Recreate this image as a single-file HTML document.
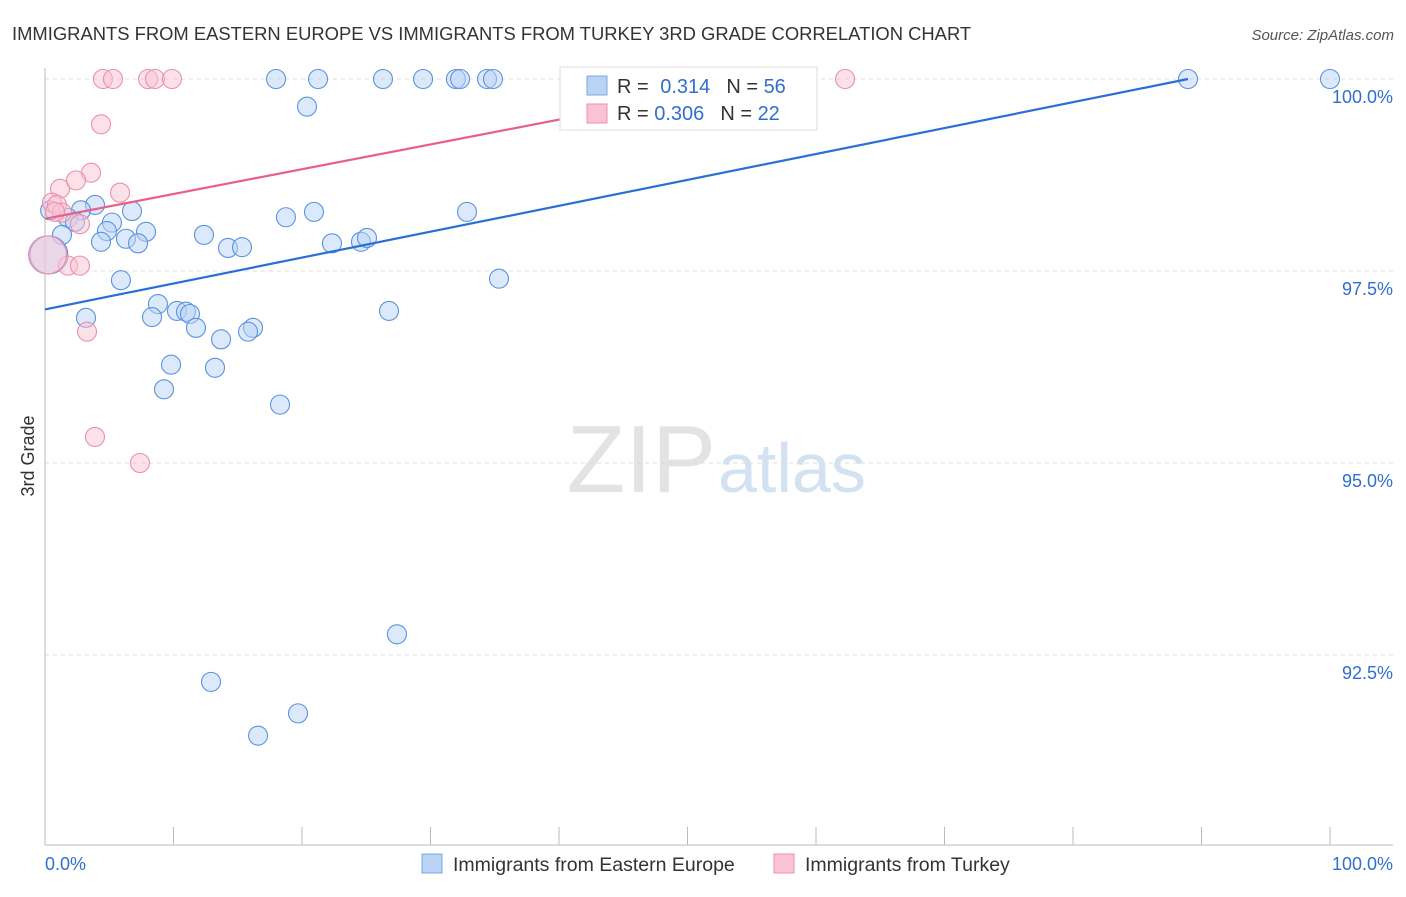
<!DOCTYPE html>
<html><head><meta charset="utf-8"><style>
body{margin:0;background:#fff;font-family:"Liberation Sans",sans-serif}
svg text{font-family:"Liberation Sans",sans-serif}
</style></head><body>
<svg width="1406" height="892" xmlns="http://www.w3.org/2000/svg">
<text x="12" y="40" font-size="18.4" fill="#333">IMMIGRANTS FROM EASTERN EUROPE VS IMMIGRANTS FROM TURKEY 3RD GRADE CORRELATION CHART</text>
<text x="1394" y="40" font-size="15" fill="#555" font-style="italic" text-anchor="end">Source: ZipAtlas.com</text>
<text x="34" y="456" font-size="18" fill="#333" transform="rotate(-90 34 456)" text-anchor="middle">3rd Grade</text>
<text x="716" y="492" font-size="96" fill="#e3e3e3" text-anchor="end" font-family="Liberation Serif">ZIP</text>
<text x="718" y="492" font-size="70" fill="#d3e2f3">atlas</text>
<g id="grid"></g><g id="axes"></g><g id="pts"></g><g id="lines"></g>
<g>
<rect x="560" y="67" width="257" height="63" fill="#fff" stroke="#ddd"/>
<rect x="587" y="76" width="20" height="19" fill="#b9d3f5" stroke="#7aa7e6"/>
<rect x="587" y="104" width="20" height="19" fill="#f9c3d3" stroke="#ee92ae"/>
<text x="617" y="93" font-size="20" fill="#333">R = <tspan fill="#2f6fd0" dx="6">0.314</tspan><tspan fill="#333" dx="16">N = </tspan><tspan fill="#2f6fd0">56</tspan></text>
<text x="617" y="120" font-size="20" fill="#333">R = <tspan fill="#2f6fd0">0.306</tspan><tspan fill="#333" dx="16">N = </tspan><tspan fill="#2f6fd0">22</tspan></text>
</g>
<g>
<rect x="422" y="854" width="20" height="19" fill="#b9d3f5" stroke="#7aa7e6"/>
<text x="453" y="871" font-size="19.5" fill="#333">Immigrants from Eastern Europe</text>
<rect x="774" y="854" width="20" height="19" fill="#f9c3d3" stroke="#ee92ae"/>
<text x="805" y="871" font-size="19.5" fill="#333">Immigrants from Turkey</text>
</g>
<text x="45" y="870" font-size="18" fill="#2f6fd0">0.0%</text>
<text x="1393" y="870" font-size="18" fill="#2f6fd0" text-anchor="end">100.0%</text>
</svg>
<script>
const blueX=[17.98,21.25,26.30,29.42,31.98,32.30,34.40,34.86,88.95,100,20.39,3.89,2.80,6.77,1.79,2.33,5.21,1.32,4.82,7.86,12.37,4.36,6.30,7.24,14.24,15.33,18.75,20.93,22.33,24.59,25.06,32.84,5.91,35.33,8.79,8.33,10.27,10.97,11.28,11.75,13.70,16.19,15.80,3.19,26.77,9.81,13.23,9.26,18.29,27.39,12.92,19.69,16.58,0.3,0.4];
const blueY=[100,100,100,100,100,100,100,100,100,100,99.64,98.36,98.29,98.28,98.19,98.14,98.13,97.97,98.02,98.01,97.97,97.88,97.92,97.86,97.80,97.81,98.20,98.27,97.86,97.88,97.93,98.27,97.38,97.40,97.07,96.90,96.98,96.97,96.94,96.76,96.61,96.76,96.71,96.89,96.98,96.28,96.24,95.96,95.76,92.77,92.15,91.74,91.45,97.71,98.29];
const blueBig=[53];
const pinkX=[4.51,5.29,8.02,8.56,9.88,62.26,4.36,3.58,1.17,2.41,5.84,0.54,0.93,1.32,2.72,1.79,2.72,3.27,3.89,7.39,0.2,0.78];
const pinkY=[100,100,100,100,100,100,99.41,98.78,98.57,98.68,98.52,98.39,98.36,98.26,98.11,97.57,97.57,96.71,95.34,95.0,97.71,98.27];
const pinkBig=[20];
const blueTrend=[97.0,100.0];
const blueTrendX=[0,88.95];
const pinkTrend=[98.18,100.0];
const pinkTrendX=[0,56.4];
const yTicks=[100,97.5,95,92.5];
const yTickLabels=["100.0%","97.5%","95.0%","92.5%"];
const xTicks=[0,10,20,30,40,50,60,70,80,90,100];
const NS="http://www.w3.org/2000/svg";
const sx=v=>45+v*12.85, sy=v=>79+(100-v)*76.8;
function mk(tag,attrs,parent){const e=document.createElementNS(NS,tag);for(const k in attrs)e.setAttribute(k,attrs[k]);document.getElementById(parent).appendChild(e);return e;}
yTicks.forEach((t,i)=>{
 const l=mk('line',{x1:45,x2:1393,y1:sy(t),y2:sy(t),stroke:'#ddd','stroke-dasharray':'4,4'},'grid');
 
 
 const tx=mk('text',{x:1393,y:sy(t)+24,'font-size':18,fill:'#2f6fd0','text-anchor':'end'},'grid');
 tx.textContent=yTickLabels[i];
 
 
});
let a=mk('line',{x1:45,x2:45,y1:68,y2:845,stroke:'#bbb'},'axes');


a=mk('line',{x1:45,x2:1393,y1:845,y2:845,stroke:'#bbb'},'axes');


xTicks.forEach(t=>{const l=mk('line',{x1:sx(t),x2:sx(t),y1:827,y2:845,stroke:'#bbb'},'axes');
 
 });
function pts(X,Y,big,fill,stroke,name){X.forEach((x,i)=>{const c=mk('circle',{cx:sx(x),cy:sy(Y[i]),r:big.includes(i)?19:9.5,fill:fill,'fill-opacity':0.5,stroke:stroke,'stroke-width':1.1},'pts');
 
 });}
pts(blueX,blueY,blueBig,'#b9d3f5','#5b93e0','blue-point');
pts(pinkX,pinkY,pinkBig,'#f9c3d3','#ec8fac','pink-point');
let ln=mk('line',{x1:sx(blueTrendX[0]),y1:sy(blueTrend[0]),x2:sx(blueTrendX[1]),y2:sy(blueTrend[1]),stroke:'#2a6fd6','stroke-width':2.2},'lines');


ln=mk('line',{x1:sx(pinkTrendX[0]),y1:sy(pinkTrend[0]),x2:sx(pinkTrendX[1]),y2:sy(pinkTrend[1]),stroke:'#e8608a','stroke-width':2.2},'lines');


</script>
</body></html>
